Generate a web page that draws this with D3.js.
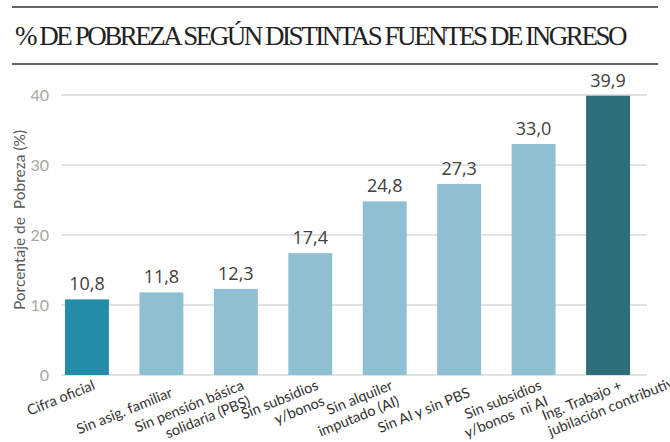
<!DOCTYPE html>
<html><head><meta charset="utf-8">
<script src="https://cdn.jsdelivr.net/npm/d3@7"></script>
<style>html,body{margin:0;padding:0;background:#fff;}svg{display:block;} .pre{white-space:pre;}</style>
</head><body>
<svg id="chart" width="670" height="442"></svg>
<script>
const title = "% DE POBREZA SEGÚN DISTINTAS FUENTES DE INGRESO";
const yTitle = "Porcentaje de  Pobreza (%)";
const categories = [
  ["Cifra oficial"],
  ["Sin asig. familiar"],
  ["Sin pensión básica", "solidaria (PBS)"],
  ["Sin subsidios", "y/bonos"],
  ["Sin alquiler", "imputado (AI)"],
  ["Sin AI y sin PBS"],
  ["Sin subsidios", "y/bonos  ni AI"],
  ["Ing. Trabajo +", "jubilación contributiva"]
];
const values = [10.8, 11.8, 12.3, 17.4, 24.8, 27.3, 33.0, 39.9];
const valueLabels = ["10,8", "11,8", "12,3", "17,4", "24,8", "27,3", "33,0", "39,9"];
const yTicks = [0, 10, 20, 30, 40];
const barColors = ["#228ca9", "#8fbfd3", "#8fbfd3", "#8fbfd3", "#8fbfd3", "#8fbfd3", "#8fbfd3", "#2e6e7b"];

const svg = d3.select("#chart");

// header rules & title
svg.append("line").attr("x1", 12).attr("x2", 658).attr("y1", 7).attr("y2", 7)
  .attr("stroke", "#333").attr("stroke-width", 1.5);
svg.append("line").attr("x1", 12).attr("x2", 658).attr("y1", 64).attr("y2", 64)
  .attr("stroke", "#333").attr("stroke-width", 1.5);
const tt = svg.append("text").attr("x", 15).attr("y", 45)
  .attr("font-family", "Liberation Serif")
  .attr("font-size", 27).attr("fill", "#222")
  .attr("letter-spacing", 0)
  .text(title);
// fit title to the reference width by adjusting letter spacing
const targetW = 610;
const w = tt.node().getComputedTextLength();
tt.attr("letter-spacing", (targetW - w) / title.length);

const x = d3.scaleBand().domain(d3.range(values.length)).range([65, 630])
  .paddingInner(0.41).paddingOuter(0);
const y = d3.scaleLinear().domain([0, 40]).range([375, 95]);

// gridlines
svg.append("g").selectAll("line").data(yTicks).join("line")
  .attr("x1", 61).attr("x2", 647)
  .attr("y1", d => y(d)).attr("y2", d => y(d))
  .attr("stroke", "#d9d9d9").attr("stroke-width", 1.5);

// y tick labels
svg.append("g").selectAll("text").data(yTicks).join("text")
  .attr("x", 49).attr("y", d => y(d) + 6)
  .attr("text-anchor", "end")
  .attr("font-family", "Lato").attr("font-size", 16)
  .attr("fill", "#a6a6a6")
  .text(d => d);

// y title
svg.append("text").attr("class", "pre")
  .attr("transform", "translate(25,220) rotate(-90)")
  .attr("text-anchor", "middle")
  .attr("font-family", "Lato").attr("font-size", 15.5)
  .attr("fill", "#595959")
  .text(yTitle);

// bars
svg.append("g").selectAll("rect").data(values).join("rect")
  .attr("x", (d, i) => x(i)).attr("width", x.bandwidth())
  .attr("y", d => y(d)).attr("height", d => y(0) - y(d))
  .attr("fill", (d, i) => barColors[i]);

// value labels
svg.append("g").selectAll("text").data(values).join("text")
  .attr("x", (d, i) => x(i) + x.bandwidth() / 2)
  .attr("y", d => y(d) - 9)
  .attr("text-anchor", "middle")
  .attr("font-family", "Open Sans").attr("font-size", 18)
  .attr("fill", "#404040")
  .text((d, i) => valueLabels[i]);

// category labels (rotated)
const ang = -22;
const lab = svg.append("g");
categories.forEach((lines, i) => {
  const cx = x(i) + x.bandwidth() / 2;
  const isLast = i === categories.length - 1;
  const drop = (lines.length === 1 && i > 0) ? 8 : 0;
  const g = lab.append("g")
    .attr("transform", `translate(${cx + (isLast ? 15 : 9)},${y(0) + 14}) rotate(${ang})`);
  const texts = lines.map((t, k) => g.append("text").attr("class", "pre")
    .attr("x", 0).attr("y", drop + k * 17)
    .attr("text-anchor", "end")
    .attr("font-family", "Lato").attr("font-size", 14.5)
    .attr("fill", "#333")
    .text(t));
  if (isLast && texts.length > 1) {
    const w0 = texts[0].node().getComputedTextLength();
    texts.forEach(t => t.attr("text-anchor", "start").attr("x", -w0));
  }
});
</script>
</body></html>
